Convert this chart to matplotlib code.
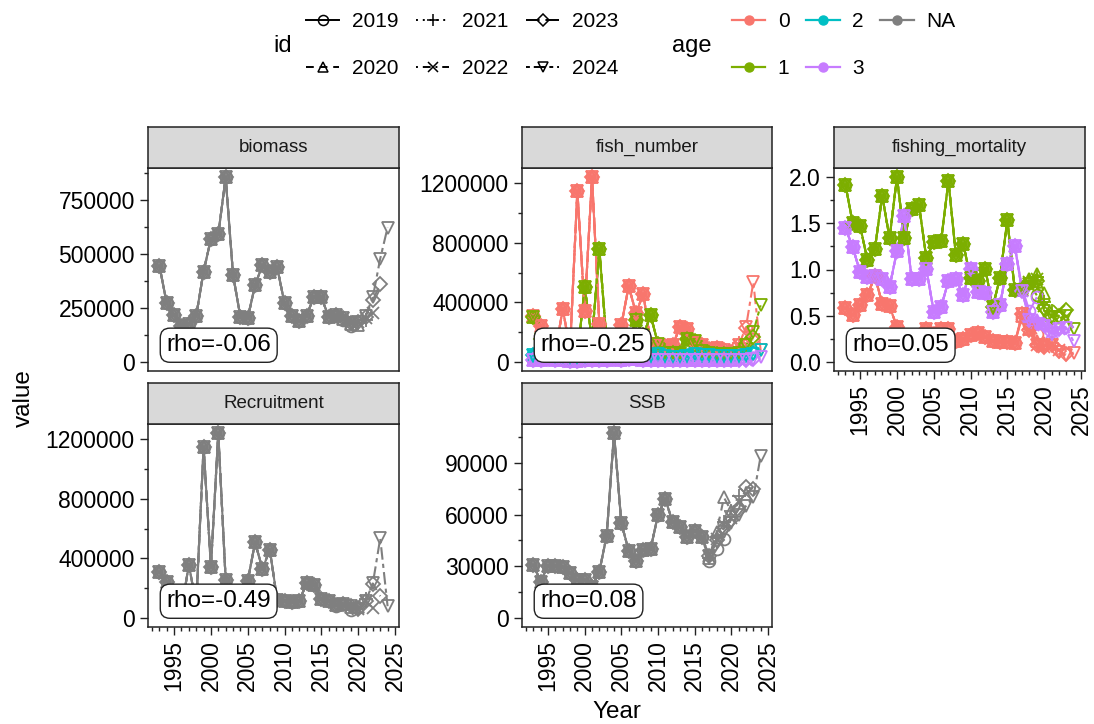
import matplotlib
matplotlib.use("Agg")
import matplotlib.pyplot as plt
from matplotlib.lines import Line2D

plt.rcParams['font.family'] = ['Liberation Sans', 'DejaVu Sans']

# ---------------- data ----------------
peel_ids = [2019, 2020, 2021, 2022, 2023, 2024]
base_years = list(range(1993, 2017))      # years shared by every retrospective peel
tail_first_year = 2017                    # peels differ from here to their terminal year

biomass_base = [445000, 270000, 215000, 168000, 175000, 213000, 418000, 570000, 590000, 855000,
                404000, 208000, 203000, 356000, 448000, 418000, 437000, 270000, 210000, 188000,
                214000, 302000, 298000, 209000]
biomass_tails = {
    2019: [212000, 195000, 165000],
    2020: [215000, 200000, 176000, 170000],
    2021: [216000, 201000, 178000, 180000, 195000],
    2022: [216000, 202000, 180000, 185000, 205000, 224000],
    2023: [216000, 201000, 178000, 186000, 209000, 285000, 362000],
    2024: [216000, 201000, 178000, 186000, 212000, 300000, 478000, 622000],
}

recruit_base = [311000, 242000, 95000, 55000, 358000, 85000, 1148000, 345000, 1242000, 256000,
                70000, 60000, 248000, 508000, 328000, 458000, 120000, 112000, 105000, 110000,
                236000, 222000, 125000, 112000]
recruit_tails = {
    2019: [82000, 92000, 55000],
    2020: [85000, 95000, 75000, 70000],
    2021: [85000, 95000, 80000, 62000, 125000],
    2022: [85000, 95000, 80000, 62000, 110000, 65000],
    2023: [85000, 95000, 80000, 62000, 115000, 230000, 145000],
    2024: [85000, 95000, 80000, 60000, 110000, 232000, 535000, 78000],
}

n1_base = [300000, 150000, 120000, 45000, 25000, 170000, 40000, 500000, 150000, 758000,
           130000, 35000, 30000, 135000, 280000, 180000, 313000, 120000, 60000, 60000,
           60000, 155000, 140000, 70000]
n1_tails = {
    2019: [60000, 55000, 50000],
    2020: [60000, 55000, 52000, 60000],
    2021: [60000, 55000, 52000, 55000, 65000],
    2022: [60000, 55000, 52000, 55000, 60000, 90000],
    2023: [60000, 55000, 52000, 55000, 62000, 120000, 165000],
    2024: [60000, 55000, 52000, 55000, 60000, 110000, 200000, 380000],
}

n2_base = [45000, 50000, 40000, 30000, 20000, 15000, 30000, 20000, 60000, 40000,
           70000, 45000, 50000, 55000, 45000, 50000, 40000, 55000, 40000, 35000,
           35000, 40000, 50000, 45000]
n2_tails = {
    2019: [45000, 42000, 40000],
    2020: [45000, 42000, 40000, 38000],
    2021: [45000, 42000, 40000, 36000, 42000],
    2022: [45000, 42000, 40000, 36000, 40000, 45000],
    2023: [45000, 42000, 40000, 36000, 40000, 48000, 60000],
    2024: [45000, 42000, 40000, 36000, 40000, 46000, 55000, 80000],
}

n3_base = [12000, 15000, 18000, 14000, 10000, 8000, 6000, 9000, 10000, 15000,
           12000, 20000, 15000, 18000, 16000, 14000, 12000, 15000, 14000, 12000,
           10000, 9000, 11000, 13000]
n3_tails = {
    2019: [12000, 11000, 10000],
    2020: [12000, 11000, 10000, 9000],
    2021: [12000, 11000, 10000, 9000, 11000],
    2022: [12000, 11000, 10000, 9000, 10000, 13000],
    2023: [12000, 11000, 10000, 9000, 10000, 14000, 18000],
    2024: [12000, 11000, 10000, 9000, 10000, 13000, 16000, 35000],
}

f0_base = [0.58, 0.51, 0.61, 0.72, 0.93, 0.63, 0.60, 0.38, 0.28, 0.25,
           0.23, 0.36, 0.30, 0.36, 0.35, 0.22, 0.25, 0.29, 0.31, 0.27,
           0.23, 0.21, 0.21, 0.20]
f0_tails = {
    2019: [0.48, 0.40, 0.30],
    2020: [0.50, 0.36, 0.22, 0.20],
    2021: [0.52, 0.35, 0.19, 0.17, 0.20],
    2022: [0.52, 0.34, 0.18, 0.16, 0.19, 0.13],
    2023: [0.52, 0.34, 0.18, 0.16, 0.18, 0.12, 0.08],
    2024: [0.52, 0.34, 0.18, 0.165, 0.18, 0.11, 0.075, 0.10],
}

f1_base = [1.92, 1.50, 1.47, 1.10, 1.22, 1.80, 1.34, 2.00, 1.34, 1.66,
           1.70, 1.12, 1.30, 1.31, 1.96, 1.16, 1.28, 0.91, 0.88, 1.01,
           0.59, 0.91, 1.54, 0.78]
f1_tails = {
    2019: [0.80, 0.85, 0.72],
    2020: [0.80, 0.90, 0.95, 0.75],
    2021: [0.78, 0.88, 0.92, 0.65, 0.55],
    2022: [0.78, 0.86, 0.90, 0.60, 0.50, 0.55],
    2023: [0.78, 0.85, 0.88, 0.58, 0.49, 0.50, 0.56],
    2024: [0.78, 0.84, 0.85, 0.55, 0.48, 0.47, 0.50, 0.36],
}

f3_base = [1.45, 1.24, 0.97, 0.92, 0.93, 0.90, 0.81, 1.20, 1.58, 0.90,
           0.90, 1.01, 0.54, 0.59, 0.88, 0.90, 0.72, 1.01, 0.76, 0.74,
           0.54, 0.61, 1.06, 1.26]
f3_tails = {
    2019: [0.80, 0.55, 0.70],
    2020: [0.78, 0.50, 0.45, 0.42],
    2021: [0.77, 0.47, 0.43, 0.40, 0.33],
    2022: [0.77, 0.46, 0.42, 0.40, 0.32, 0.35],
    2023: [0.77, 0.45, 0.42, 0.40, 0.31, 0.36, 0.38],
    2024: [0.77, 0.45, 0.41, 0.39, 0.30, 0.35, 0.37, 0.22],
}

ssb_base = [30800, 21100, 30400, 30400, 29400, 26100, 21700, 21700, 18000, 26900,
            47800, 107400, 55100, 39100, 33300, 39700, 40100, 60000, 69100, 55500,
            52600, 46800, 50700, 46800]
ssb_tails = {
    2019: [33000, 40000, 46000],
    2020: [35000, 50000, 70000, 62000],
    2021: [35000, 47000, 56000, 62000, 71000],
    2022: [36000, 46000, 54000, 58000, 68000, 72000],
    2023: [36000, 45000, 52000, 57000, 63000, 76000, 75000],
    2024: [36000, 44000, 50000, 55000, 60000, 65000, 70000, 94000],
}

facet_names = ["biomass", "fish_number", "fishing_mortality", "Recruitment", "SSB"]
rho_labels = ["rho=-0.06", "rho=-0.25", "rho=0.05", "rho=-0.49", "rho=0.08"]
age_levels = ["0", "1", "2", "3", "NA"]

facet_series = {
    "biomass": [("NA", biomass_base, biomass_tails)],
    "fish_number": [("0", recruit_base, recruit_tails), ("1", n1_base, n1_tails),
                    ("2", n2_base, n2_tails), ("3", n3_base, n3_tails)],
    "fishing_mortality": [("0", f0_base, f0_tails), ("1", f1_base, f1_tails),
                          ("3", f3_base, f3_tails)],
    "Recruitment": [("NA", recruit_base, recruit_tails)],
    "SSB": [("NA", ssb_base, ssb_tails)],
}

y_major = {
    "biomass": [0, 250000, 500000, 750000],
    "fish_number": [0, 400000, 800000, 1200000],
    "fishing_mortality": [0.0, 0.5, 1.0, 1.5, 2.0],
    "Recruitment": [0, 400000, 800000, 1200000],
    "SSB": [0, 30000, 60000, 90000],
}
y_labels = {
    "biomass": ["0", "250000", "500000", "750000"],
    "fish_number": ["0", "400000", "800000", "1200000"],
    "fishing_mortality": ["0.0", "0.5", "1.0", "1.5", "2.0"],
    "Recruitment": ["0", "400000", "800000", "1200000"],
    "SSB": ["0", "30000", "60000", "90000"],
}
x_major = [1995, 2000, 2005, 2010, 2015, 2020, 2025]
x_minor = list(range(1992, 2026))

# ---------------- style ----------------
W, H, DPI = 1094, 724, 100
age_colors = {"0": "#F8766D", "1": "#7CAE00", "2": "#00BFC4", "3": "#C77CFF", "NA": "#7F7F7F"}
id_marker = {2019: 'o', 2020: '^', 2021: '+', 2022: 'x', 2023: 'D', 2024: 'v'}
id_msize = {2019: 8.5, 2020: 8.5, 2021: 10, 2022: 8, 2023: 7, 2024: 8.5}
id_ls = {2019: '-', 2020: (0, (4, 3)), 2021: (0, (1, 2.5)), 2022: (0, (1, 2.5, 4, 2.5)),
         2023: (0, (7, 3)), 2024: (0, (2, 2, 6, 2))}

# panel rectangles in pixels: x0, y0(top), x1, y1(bottom)
panel_px = {
    "biomass": (148, 168, 399, 371),
    "fish_number": (522, 168, 772, 371),
    "fishing_mortality": (834, 168, 1085, 371),
    "Recruitment": (148, 424, 399, 627),
    "SSB": (522, 424, 772, 627),
}
strip_h = 41
show_x = {"biomass": False, "fish_number": False, "fishing_mortality": True,
          "Recruitment": True, "SSB": True}

TICK_FS = 16.5
fig = plt.figure(figsize=(W / DPI, H / DPI), dpi=DPI)


def rect(x0, y0, x1, y1):
    return [x0 / W, 1 - y1 / H, (x1 - x0) / W, (y1 - y0) / H]


for name, rho in zip(facet_names, rho_labels):
    x0, y0, x1, y1 = panel_px[name]
    ax = fig.add_axes(rect(x0, y0, x1, y1))
    allvals = []
    # lines first
    for pid in peel_ids:
        for age, base, tails in facet_series[name]:
            yrs = base_years + list(range(tail_first_year, pid + 1))
            vals = base + tails[pid]
            allvals += vals
            ax.plot(yrs, vals, color=age_colors[age], lw=1.5, linestyle=id_ls[pid],
                    solid_capstyle='butt', zorder=2)
    for pid in peel_ids:
        for age, base, tails in facet_series[name]:
            yrs = base_years + list(range(tail_first_year, pid + 1))
            vals = base + tails[pid]
            ax.plot(yrs, vals, linestyle='none', marker=id_marker[pid],
                    ms=id_msize[pid], mfc='none', mec=age_colors[age], mew=1.3, zorder=3)
    lo = min(0, min(allvals))
    hi = max(allvals)
    pad = 0.05 * (hi - lo)
    ax.set_ylim(lo - pad, hi + pad)
    ax.set_xlim(1993 - 0.05 * 31, 2024 + 0.05 * 31)

    ax.set_yticks(y_major[name])
    ax.set_yticklabels(y_labels[name])
    step = y_major[name][1] - y_major[name][0]
    ax.set_yticks([v + step / 2 for v in [y_major[name][0] - step] + y_major[name]
                   if lo - pad <= v + step / 2 <= hi + pad], minor=True)
    ax.set_xticks(x_major)
    ax.set_xticks(x_minor, minor=True)
    ax.tick_params(axis='both', which='major', length=6, width=1.0, color='#222222',
                   labelsize=TICK_FS, labelcolor='black', pad=3.5)
    ax.tick_params(axis='both', which='minor', length=3.2, width=1.0, color='#222222')
    if show_x[name]:
        ax.set_xticklabels([str(v) for v in x_major], rotation=90)
    else:
        ax.tick_params(axis='x', which='both', bottom=False, labelbottom=False)
    for s in ax.spines.values():
        s.set_color('#222222')
        s.set_linewidth(1.1)

    ax.annotate(rho, xy=(1993, 0), xycoords='data', xytext=(5, 4), textcoords='offset points',
                ha='left', va='bottom', fontsize=17.5, color='black', zorder=5,
                bbox=dict(boxstyle='round,pad=0.25,rounding_size=0.4', fc='white',
                          ec='#222222', lw=1.0))

    # strip
    sax = fig.add_axes(rect(x0, y0 - strip_h, x1, y0))
    sax.set_facecolor('#D9D9D9')
    sax.set_xticks([])
    sax.set_yticks([])
    for s in sax.spines.values():
        s.set_color('#222222')
        s.set_linewidth(1.1)
    sax.text(0.5, 0.5, name, ha='center', va='center', fontsize=13.5, color='#1A1A1A',
             transform=sax.transAxes)

# axis titles
fig.text(24 / W, 1 - 398 / H, "value", rotation=90, ha='center', va='center', fontsize=17.5)
fig.text(617 / W, 1 - 712 / H, "Year", ha='center', va='center', fontsize=17.5)

# legends
id_handles = [Line2D([], [], color='black', lw=1.4, linestyle=id_ls[p], marker=id_marker[p],
                     ms=id_msize[p] * 0.85, mfc='none', mew=1.1) for p in peel_ids]
leg1 = fig.legend(id_handles, [str(p) for p in peel_ids], ncol=3, loc='center left',
                  bbox_to_anchor=(306 / W, 1 - 45 / H), frameon=False, fontsize=15,
                  handlelength=1.6, handletextpad=0.6, columnspacing=0.85, labelspacing=1.35,
                  borderpad=0, borderaxespad=0)
fig.text(283 / W, 1 - 46 / H, "id", ha='center', va='center', fontsize=17)

age_handles = [Line2D([], [], color=age_colors[a], lw=1.6, marker='o', ms=6.5) for a in age_levels]
leg2 = fig.legend(age_handles, age_levels, ncol=3, loc='center left',
                  bbox_to_anchor=(732 / W, 1 - 45 / H), frameon=False, fontsize=15,
                  handlelength=1.6, handletextpad=0.6, columnspacing=0.8, labelspacing=1.35,
                  borderpad=0, borderaxespad=0)
fig.text(692 / W, 1 - 46 / H, "age", ha='center', va='center', fontsize=17)

fig.savefig("out.png", dpi=DPI)
